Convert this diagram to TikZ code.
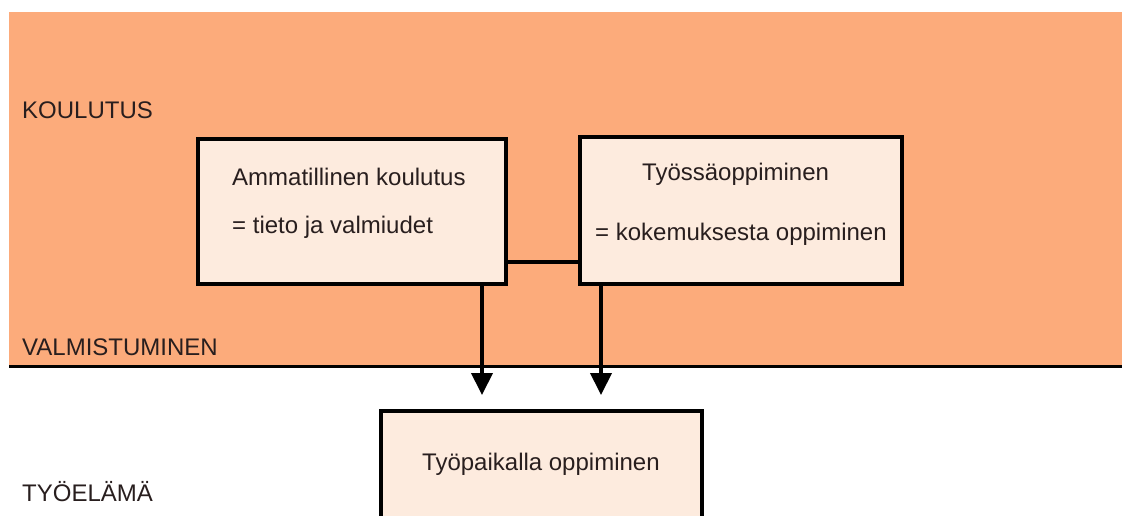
\documentclass[tikz,border=0pt]{standalone}
\usepackage{fontspec}
\setmainfont{Liberation Sans}
\usetikzlibrary{arrows.meta}
\definecolor{koulutusorange}{RGB}{252,171,123}
\definecolor{laatikkotausta}{RGB}{253,235,222}
\definecolor{tekstivari}{RGB}{40,30,30}
\tikzset{
  laatikko/.style={draw=black,line width=3.5pt,fill=laatikkotausta,inner sep=0pt,outer sep=0pt},
  teksti/.style={anchor=base west,inner sep=0pt,text=tekstivari,font=\fontsize{24}{28}\selectfont},
  nuoli/.style={line width=4pt,-{Triangle[width=21pt,length=22pt]}},
}
\begin{document}
\begin{tikzpicture}[x=1pt,y=-1pt]
\clip (0,0) rectangle (1122,515);
% koulutuksen alue ja raja
\fill[koulutusorange] (9,12) rectangle (1122,366);
\coordinate (rajaA) at (9,366);
\coordinate (rajaB) at (1122,366);
\draw[line width=3pt] (rajaA) -- (rajaB);
% laatikot
\node[laatikko,minimum width=308pt,minimum height=145pt] (ammat) at (352,211.5) {};
\node[laatikko,minimum width=322pt,minimum height=147pt] (tyossa) at (741,210.5) {};
\node[laatikko,minimum width=321pt,minimum height=149pt] (paikka) at (541.5,485.5) {};
% tekstit
\node[teksti] (koulutus) at (22,118) {KOULUTUS};
\node[teksti] (valmis) at (22,355) {VALMISTUMINEN};
\node[teksti] (tyoelama) at (22,501) {TYÖELÄMÄ};
\node[teksti] (ammat1) at (232,185) {Ammatillinen koulutus};
\node[teksti] (ammat2) at (232,233) {= tieto ja valmiudet};
\node[teksti] (tyossa1) at (642,180) {Työssäoppiminen};
\node[teksti] (tyossa2) at (595,240) {= kokemuksesta oppiminen};
\node[teksti] (paikka1) at (422,470) {Työpaikalla oppiminen};
% yhteydet
\draw[line width=3.5pt] ([yshift=22pt]ammat.south east) -- ([yshift=22pt]tyossa.south west);
\coordinate (alku1) at ([xshift=-24pt]ammat.south east);
\coordinate (alku2) at ([xshift=21pt]tyossa.south west);
\coordinate (karki1) at (alku1 |- 0,395);
\coordinate (karki2) at (alku2 |- 0,395);
\draw[nuoli] (alku1) -- (karki1);
\draw[nuoli] (alku2) -- (karki2);
\end{tikzpicture}
\end{document}
